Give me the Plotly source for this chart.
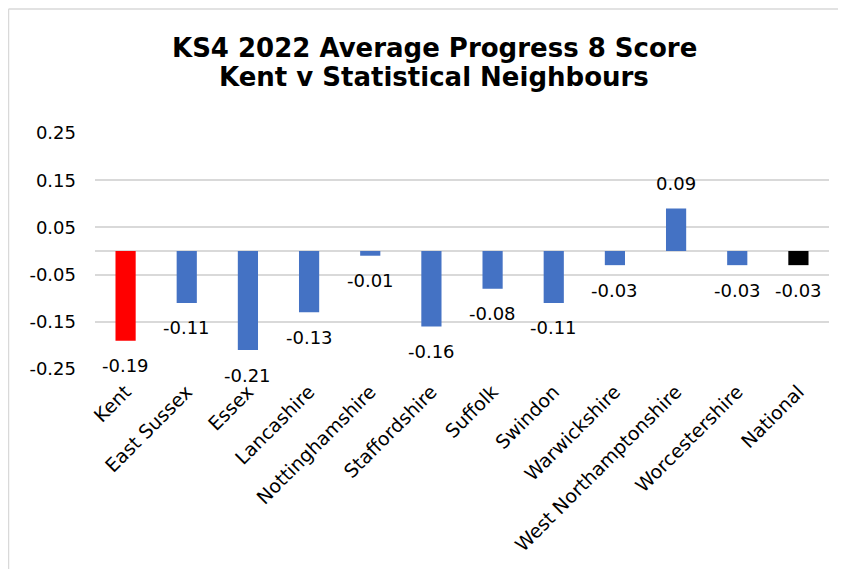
import plotly.graph_objects as go

categories = ["Kent", "East Sussex", "Essex", "Lancashire", "Nottinghamshire",
              "Staffordshire", "Suffolk", "Swindon", "Warwickshire",
              "West Northamptonshire", "Worcestershire", "National"]
values = [-0.19, -0.11, -0.21, -0.13, -0.01, -0.16, -0.08, -0.11, -0.03, 0.09, -0.03, -0.03]
bar_colors = ["#FF0000"] + ["#4472C4"] * 10 + ["#000000"]
y_ticks = [0.25, 0.15, 0.05, -0.05, -0.15, -0.25]
y_tick_labels = ["0.25", "0.15", "0.05", "-0.05", "-0.15", "-0.25"]
title_lines = ["KS4 2022 Average Progress 8 Score", "Kent v Statistical Neighbours"]

FONT = "DejaVu Sans"

# figure geometry (page body has an 8px margin)
W, H = 838, 561
L, R, T, B = 87, 17, 125, 200
PW, PH = W - L - R, H - T - B


def px_x(x):
    return (x - L) / PW


def px_y(y):
    return (H - B - y) / PH


fig = go.Figure()
fig.add_trace(go.Bar(
    x=categories, y=values,
    marker=dict(color=bar_colors, line=dict(width=0)),
    width=0.33,
    hoverinfo="x+y",
))

annotations = []
for c, v in zip(categories, values):
    annotations.append(dict(
        x=c, y=v, xref="x", yref="y",
        text=f"{v:.2f}", showarrow=False,
        yanchor="middle", xanchor="center",
        yshift=25 if v >= 0 else -25,
        font=dict(family=FONT, size=18, color="#000000"),
    ))
for line, yc in zip(title_lines, [40, 68.5]):
    annotations.append(dict(
        x=px_x(426), y=px_y(yc), xref="paper", yref="paper",
        text="<b>" + line + "</b>", showarrow=False,
        xanchor="center", yanchor="middle",
        font=dict(family=FONT, size=26, color="#000000"),
    ))

border = dict(color="#D9D9D9", width=1.5)
fig.update_layout(
    width=W, height=H,
    margin=dict(l=L, r=R, t=T, b=B, autoexpand=False),
    paper_bgcolor="white", plot_bgcolor="white",
    showlegend=False,
    xaxis=dict(
        tickangle=-45,
        tickfont=dict(family=FONT, size=19, color="#000000"),
        showgrid=False, showline=False, ticks="", ticklabelstandoff=7,
    ),
    yaxis=dict(
        range=[-0.25, 0.25],
        tickmode="array", tickvals=y_ticks, ticktext=y_tick_labels,
        tickfont=dict(family=FONT, size=18, color="#000000"),
        showgrid=True, gridcolor="#D9D9D9", gridwidth=1.5,
        zeroline=True, zerolinecolor="#D9D9D9", zerolinewidth=1.5,
        showline=False, ticks="", ticklabelstandoff=18,
    ),
    annotations=annotations,
    shapes=[
        dict(type="line", xref="paper", yref="paper",
             x0=px_x(0.5), x1=px_x(W), y0=px_y(1), y1=px_y(1),
             line=border, layer="below"),
        dict(type="line", xref="paper", yref="paper",
             x0=px_x(0.5), x1=px_x(0.5), y0=px_y(1), y1=px_y(H),
             line=border, layer="below"),
    ],
)

fig.write_html("out.html")
